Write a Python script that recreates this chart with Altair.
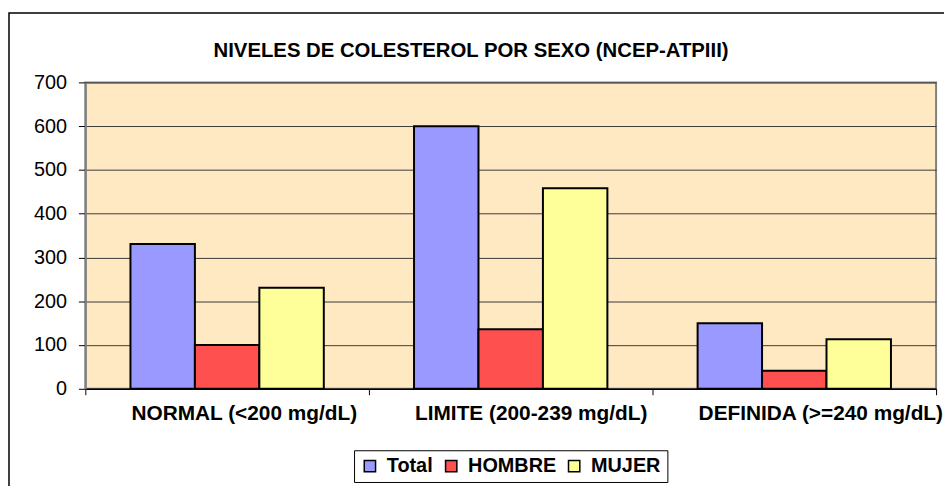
import altair as alt
import pandas as pd

title_text = "NIVELES DE COLESTEROL POR SEXO (NCEP-ATPIII)"
categories = ["NORMAL (<200 mg/dL)", "LIMITE (200-239 mg/dL)", "DEFINIDA (>=240 mg/dL)"]
series = ["Total", "HOMBRE", "MUJER"]
total = [331, 600, 150]
hombre = [100, 136, 41]
mujer = [231, 458, 113]
colors = ["#9999FF", "#FF5050", "#FFFF99"]
y_ticks = [0, 100, 200, 300, 400, 500, 600, 700]

rows = []
for i, c in enumerate(categories):
    for s, vals in zip(series, [total, hombre, mujer]):
        rows.append({"categoria": c, "serie": s, "valor": vals[i]})
df = pd.DataFrame(rows)

FONT = "Liberation Sans"

bars = alt.Chart(df).mark_bar(stroke="black", strokeWidth=2).encode(
    x=alt.X("categoria:N", sort=categories,
            scale=alt.Scale(paddingInner=0, paddingOuter=0),
            axis=alt.Axis(title=None, labelAngle=0, tickBand="extent",
                          labelFontSize=21, labelFontWeight="bold", labelFont=FONT,
                          labelColor="black", labelAlign="left", labelOffset=-97,
                          labelPadding=8, labelLimit=0,
                          tickSize=6, tickColor="#000000", domainColor="#000000",
                          domainWidth=1.5, tickWidth=1)),
    xOffset=alt.XOffset("serie:N", sort=series,
                        scale=alt.Scale(paddingInner=0, paddingOuter=0.7)),
    y=alt.Y("valor:Q", scale=alt.Scale(domain=[0, 700], nice=False),
            axis=alt.Axis(title=None, values=y_ticks, labelFontSize=20, labelFont=FONT,
                          labelColor="black", labelPadding=12, tickSize=7,
                          tickColor="#000000", domainColor="#808080", domainWidth=2,
                          gridColor="#3a3a3a", gridWidth=1)),
    color=alt.Color("serie:N", sort=series,
                    scale=alt.Scale(domain=series, range=colors),
                    legend=alt.Legend(title=None, orient="none", legendX=271, legendY=371,
                                      direction="horizontal", symbolType="square",
                                      symbolSize=130, symbolStrokeColor="black",
                                      symbolStrokeWidth=1.5, labelFontSize=20,
                                      labelFontWeight="bold", labelFont=FONT,
                                      labelColor="black", strokeColor="black",
                                      fillColor="white", padding=6, columnPadding=8,
                                      labelOffset=7)),
)

frame = alt.Chart(alt.Data(values=[{"a": 1}])).mark_rect(
    fill="transparent", stroke="black", strokeWidth=1.5
).encode(x=alt.value(-77), y=alt.value(-70), x2=alt.value(900), y2=alt.value(440))

title = alt.Chart(alt.Data(values=[{"t": title_text}])).mark_text(
    font=FONT, fontSize=20.5, fontWeight="bold", color="black",
    align="center", baseline="alphabetic"
).encode(text="t:N", x=alt.value(389), y=alt.value(-26))

chart = alt.layer(frame, title, bars).properties(
    width=858, height=309,
    autosize=alt.AutoSizeParams(type="none"),
    padding={"left": 78, "top": 73, "right": 8, "bottom": 96},
).configure_view(fill="#FFE9C3", stroke="#808080", strokeWidth=2)

chart.save("out.html", embed_options={"renderer": "svg", "actions": False})
